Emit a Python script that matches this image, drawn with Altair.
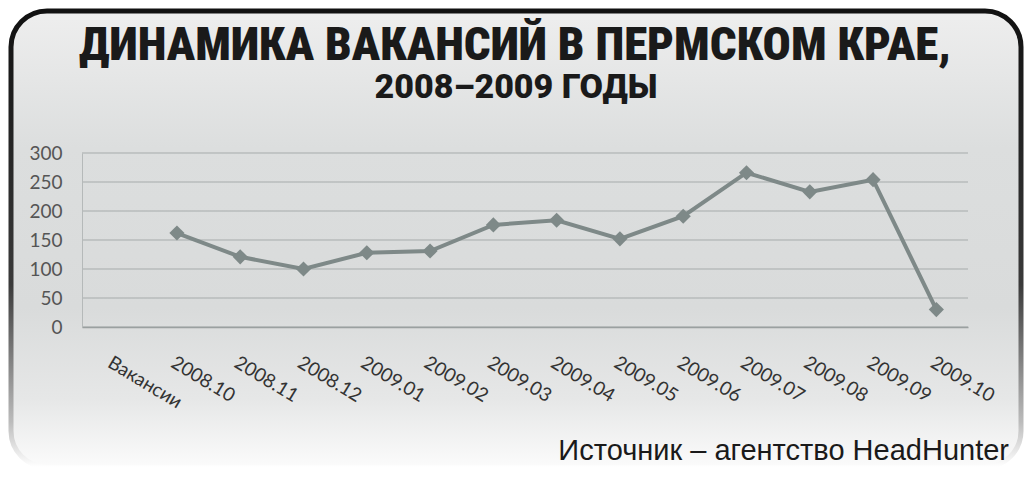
import altair as alt
import pandas as pd

CATS = ["Вакансии", "2008.10", "2008.11", "2008.12", "2009.01", "2009.02", "2009.03",
        "2009.04", "2009.05", "2009.06", "2009.07", "2009.08", "2009.09", "2009.10"]
MONTHS = CATS[1:]
VALUES = [162, 121, 100, 128, 131, 176, 184, 152, 191, 266, 233, 254, 30]
Y_TICKS = [0, 50, 100, 150, 200, 250, 300]
TITLE = "ДИНАМИКА ВАКАНСИЙ В ПЕРМСКОМ КРАЕ,"
SUBTITLE = "2008–2009 ГОДЫ"
SOURCE = "Источник – агентство HeadHunter"

W, H = 886, 174
PL, PT, PR, PB = 74, 145, 56, 143

df = pd.DataFrame({"month": MONTHS, "value": VALUES})
grid_df = pd.DataFrame({"value": Y_TICKS})
one = pd.DataFrame({"title": [TITLE], "subtitle": [SUBTITLE], "source": [SOURCE]})

xenc = alt.X(
    "month:N",
    sort=CATS,
    scale=alt.Scale(type="point", domain=CATS, padding=0.5),
    title=None,
    axis=alt.Axis(
        labelAngle=31, labelAlign="left", labelBaseline="top", labelPadding=26,
        labelFont="Lato", labelFontSize=19, labelColor="#333333",
        ticks=False, domain=True, domainColor="#9aa0a0", domainWidth=1.5,
        labelOverlap=False, labelLimit=300, grid=False, zindex=1,
    ),
)
yscale = alt.Scale(domain=[0, 300], nice=False)
yaxis = alt.Axis(
    values=Y_TICKS, grid=False,
    ticks=False, domain=True, domainColor="#b5b9b9", domainWidth=1,
    labelFont="Lato", labelFontSize=19, labelColor="#555555", labelPadding=20,
    zindex=1,
)
yenc = alt.Y("value:Q", scale=yscale, title=None, axis=yaxis)

bg_fill = alt.LinearGradient(
    gradient="linear", x1=0, y1=0, x2=0, y2=1,
    stops=[
        alt.GradientStop(color="#eeeeee", offset=0),
        alt.GradientStop(color="#dcdede", offset=0.3),
        alt.GradientStop(color="#d9dbdb", offset=0.65),
        alt.GradientStop(color="#e6e7e7", offset=0.85),
        alt.GradientStop(color="#fbfbfb", offset=1),
    ],
)
bg_stroke = alt.LinearGradient(
    gradient="linear", x1=0, y1=0, x2=0, y2=1,
    stops=[
        alt.GradientStop(color="#111111", offset=0),
        alt.GradientStop(color="#3a3a3a", offset=0.6),
        alt.GradientStop(color="#bbbbbb", offset=0.9),
        alt.GradientStop(color="#ffffff", offset=1),
    ],
)

frame = alt.Chart(one).mark_rect(
    cornerRadius=36, fill=bg_fill, stroke=bg_stroke, strokeWidth=5
).encode(
    x=alt.value(-PL + 3), x2=alt.value(W + PR - 3),
    y=alt.value(-PT + 3), y2=alt.value(H + PB - 3),
)

grid = alt.Chart(grid_df).mark_rule(color="#a6abab", strokeWidth=1).encode(y=yenc)

title = alt.Chart(one).mark_text(
    font="Roboto Condensed, Roboto", fontWeight=900,
    fontSize=47, color="#1a1a1a", align="center", baseline="alphabetic",
).encode(x=alt.value(W / 2 - 10), y=alt.value(-93), text="title:N")

subtitle = alt.Chart(one).mark_text(
    font="Roboto", fontWeight=900,
    fontSize=34, color="#1a1a1a", align="center", baseline="alphabetic",
).encode(x=alt.value(W / 2 - 9), y=alt.value(-55), text="subtitle:N")

source = alt.Chart(one).mark_text(
    font="Liberation Sans, Arial", fontSize=29, color="#1a1a1a",
    align="right", baseline="alphabetic",
).encode(x=alt.value(927), y=alt.value(307), text="source:N")

line = alt.Chart(df).mark_line(color="#7e8988", strokeWidth=4).encode(x=xenc, y=yenc)
points = alt.Chart(df).mark_point(
    shape="diamond", filled=True, size=230, color="#7e8988", opacity=1
).encode(x=xenc, y=yenc)

chart = alt.layer(frame, grid, line, points, title, subtitle, source).properties(
    width=W, height=H,
    padding={"left": PL, "top": PT, "right": PR, "bottom": PB},
    autosize=alt.AutoSizeParams(type="none"),
).configure_view(stroke=None).configure(background="white")

chart.save("out.html", embed_options={"renderer": "svg", "actions": False})
